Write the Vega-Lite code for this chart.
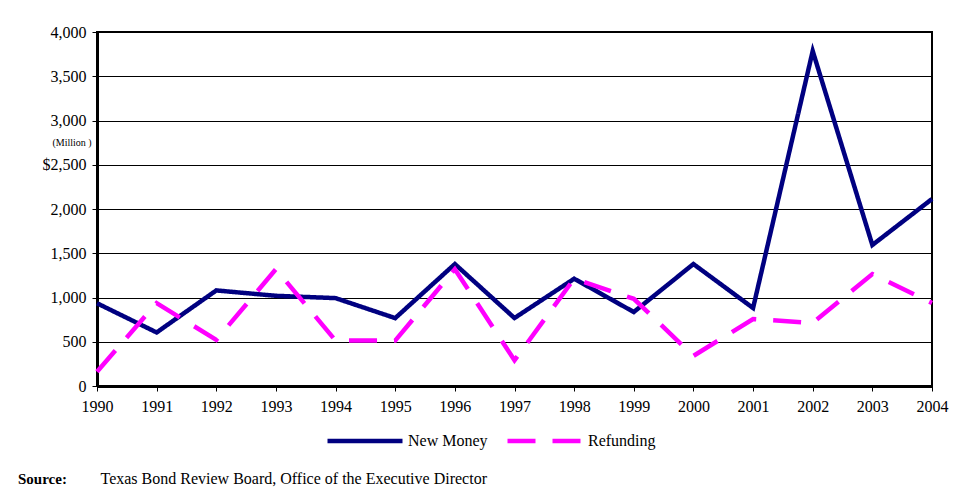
{
  "$schema": "https://vega.github.io/schema/vega-lite/v6.json",
  "autosize": {"type": "none"},
  "width": 835,
  "height": 354,
  "padding": {"left": 97, "top": 32, "right": 32, "bottom": 111},
  "background": "white",
  "config": {
    "font": "Liberation Serif",
    "axis": {"labelFont": "Liberation Serif", "titleFont": "Liberation Serif"},
    "legend": {"labelFont": "Liberation Serif", "titleFont": "Liberation Serif"},
    "title": {"font": "Liberation Serif"},
    "view": {"stroke": "black", "strokeWidth": 2}
  },
  "title": {
    "text": "Source:",
    "orient": "bottom",
    "anchor": "start",
    "frame": "group",
    "font": "Liberation Serif",
    "fontSize": 15,
    "fontWeight": "bold",
    "color": "black",
    "dx": -79,
    "offset": -14
  },
  "data": {
    "values": [
      {"year": 1990, "series": "New Money", "value": 935},
      {"year": 1991, "series": "New Money", "value": 605},
      {"year": 1992, "series": "New Money", "value": 1080},
      {"year": 1993, "series": "New Money", "value": 1019},
      {"year": 1994, "series": "New Money", "value": 993},
      {"year": 1995, "series": "New Money", "value": 767},
      {"year": 1996, "series": "New Money", "value": 1378},
      {"year": 1997, "series": "New Money", "value": 768},
      {"year": 1998, "series": "New Money", "value": 1212},
      {"year": 1999, "series": "New Money", "value": 836},
      {"year": 2000, "series": "New Money", "value": 1378},
      {"year": 2001, "series": "New Money", "value": 881},
      {"year": 2002, "series": "New Money", "value": 3785},
      {"year": 2003, "series": "New Money", "value": 1593},
      {"year": 2004, "series": "New Money", "value": 2113},
      {"year": 1990, "series": "Refunding", "value": 162},
      {"year": 1991, "series": "Refunding", "value": 937},
      {"year": 1992, "series": "Refunding", "value": 521},
      {"year": 1993, "series": "Refunding", "value": 1320},
      {"year": 1994, "series": "Refunding", "value": 513},
      {"year": 1995, "series": "Refunding", "value": 513},
      {"year": 1996, "series": "Refunding", "value": 1320},
      {"year": 1997, "series": "Refunding", "value": 290},
      {"year": 1998, "series": "Refunding", "value": 1212},
      {"year": 1999, "series": "Refunding", "value": 985},
      {"year": 2000, "series": "Refunding", "value": 340},
      {"year": 2001, "series": "Refunding", "value": 757},
      {"year": 2002, "series": "Refunding", "value": 712},
      {"year": 2003, "series": "Refunding", "value": 1265},
      {"year": 2004, "series": "Refunding", "value": 938}
    ]
  },
  "mark": {"type": "line", "strokeWidth": 4.5, "strokeJoin": "miter", "strokeCap": "butt"},
  "encoding": {
    "x": {
      "field": "year",
      "type": "quantitative",
      "scale": {"domain": [1990, 2004], "nice": false, "zero": false},
      "axis": {
        "values": [1990, 1991, 1992, 1993, 1994, 1995, 1996, 1997, 1998, 1999, 2000, 2001, 2002, 2003, 2004],
        "format": "d",
        "grid": false,
        "domainColor": "black",
        "domainWidth": 3,
        "tickColor": "black",
        "tickSize": 5,
        "labelFont": "Liberation Serif",
        "labelFontSize": 16,
        "labelColor": "black",
        "labelPadding": 7,
        "labelFlush": false,
        "title": "Texas Bond Review Board, Office of the Executive Director",
        "titleFont": "Liberation Serif",
        "titleFontSize": 16,
        "titleFontWeight": "normal",
        "titleColor": "black",
        "titleX": 3,
        "titleY": 92,
        "titleAlign": "left",
        "titleBaseline": "middle",
        "titleLimit": 800
      }
    },
    "y": {
      "field": "value",
      "type": "quantitative",
      "scale": {"domain": [0, 4000], "nice": false},
      "axis": {
        "values": [0, 500, 1000, 1500, 2000, 2500, 3000, 3500, 4000],
        "labelExpr": "datum.value == 2500 ? '$2,500' : format(datum.value, ',')",
        "grid": true,
        "gridColor": "black",
        "gridWidth": 1,
        "gridOpacity": 1,
        "domainColor": "black",
        "domainWidth": 3,
        "tickColor": "black",
        "tickSize": 5,
        "labelFont": "Liberation Serif",
        "labelFontSize": 16,
        "labelColor": "black",
        "labelPadding": 6,
        "title": "(Million )",
        "titleFont": "Liberation Serif",
        "titleFontSize": 10,
        "titleFontWeight": "normal",
        "titleColor": "black",
        "titleAngle": 0,
        "titleX": -45,
        "titleY": 110,
        "titleAlign": "left",
        "titleBaseline": "middle",
        "titleLimit": 200
      }
    },
    "color": {
      "field": "series",
      "type": "nominal",
      "scale": {"domain": ["New Money", "Refunding"], "range": ["#000080", "#FF00FF"]},
      "legend": {
        "title": null,
        "orient": "none",
        "direction": "horizontal",
        "legendX": 228,
        "legendY": 369,
        "symbolType": "stroke",
        "symbolSize": 5625,
        "symbolStrokeWidth": 4.5,
        "labelFont": "Liberation Serif",
        "labelFontSize": 16,
        "labelColor": "black",
        "labelOffset": 3,
        "columnPadding": 10
      }
    },
    "strokeDash": {
      "field": "series",
      "type": "nominal",
      "scale": {"domain": ["New Money", "Refunding"], "range": [[1, 0], [28, 17]]},
      "legend": {
        "title": null,
        "orient": "none",
        "direction": "horizontal",
        "legendX": 228,
        "legendY": 369,
        "symbolType": "stroke",
        "symbolSize": 5625,
        "symbolStrokeWidth": 4.5,
        "labelFont": "Liberation Serif",
        "labelFontSize": 16,
        "labelColor": "black",
        "labelOffset": 3,
        "columnPadding": 10
      }
    }
  }
}
